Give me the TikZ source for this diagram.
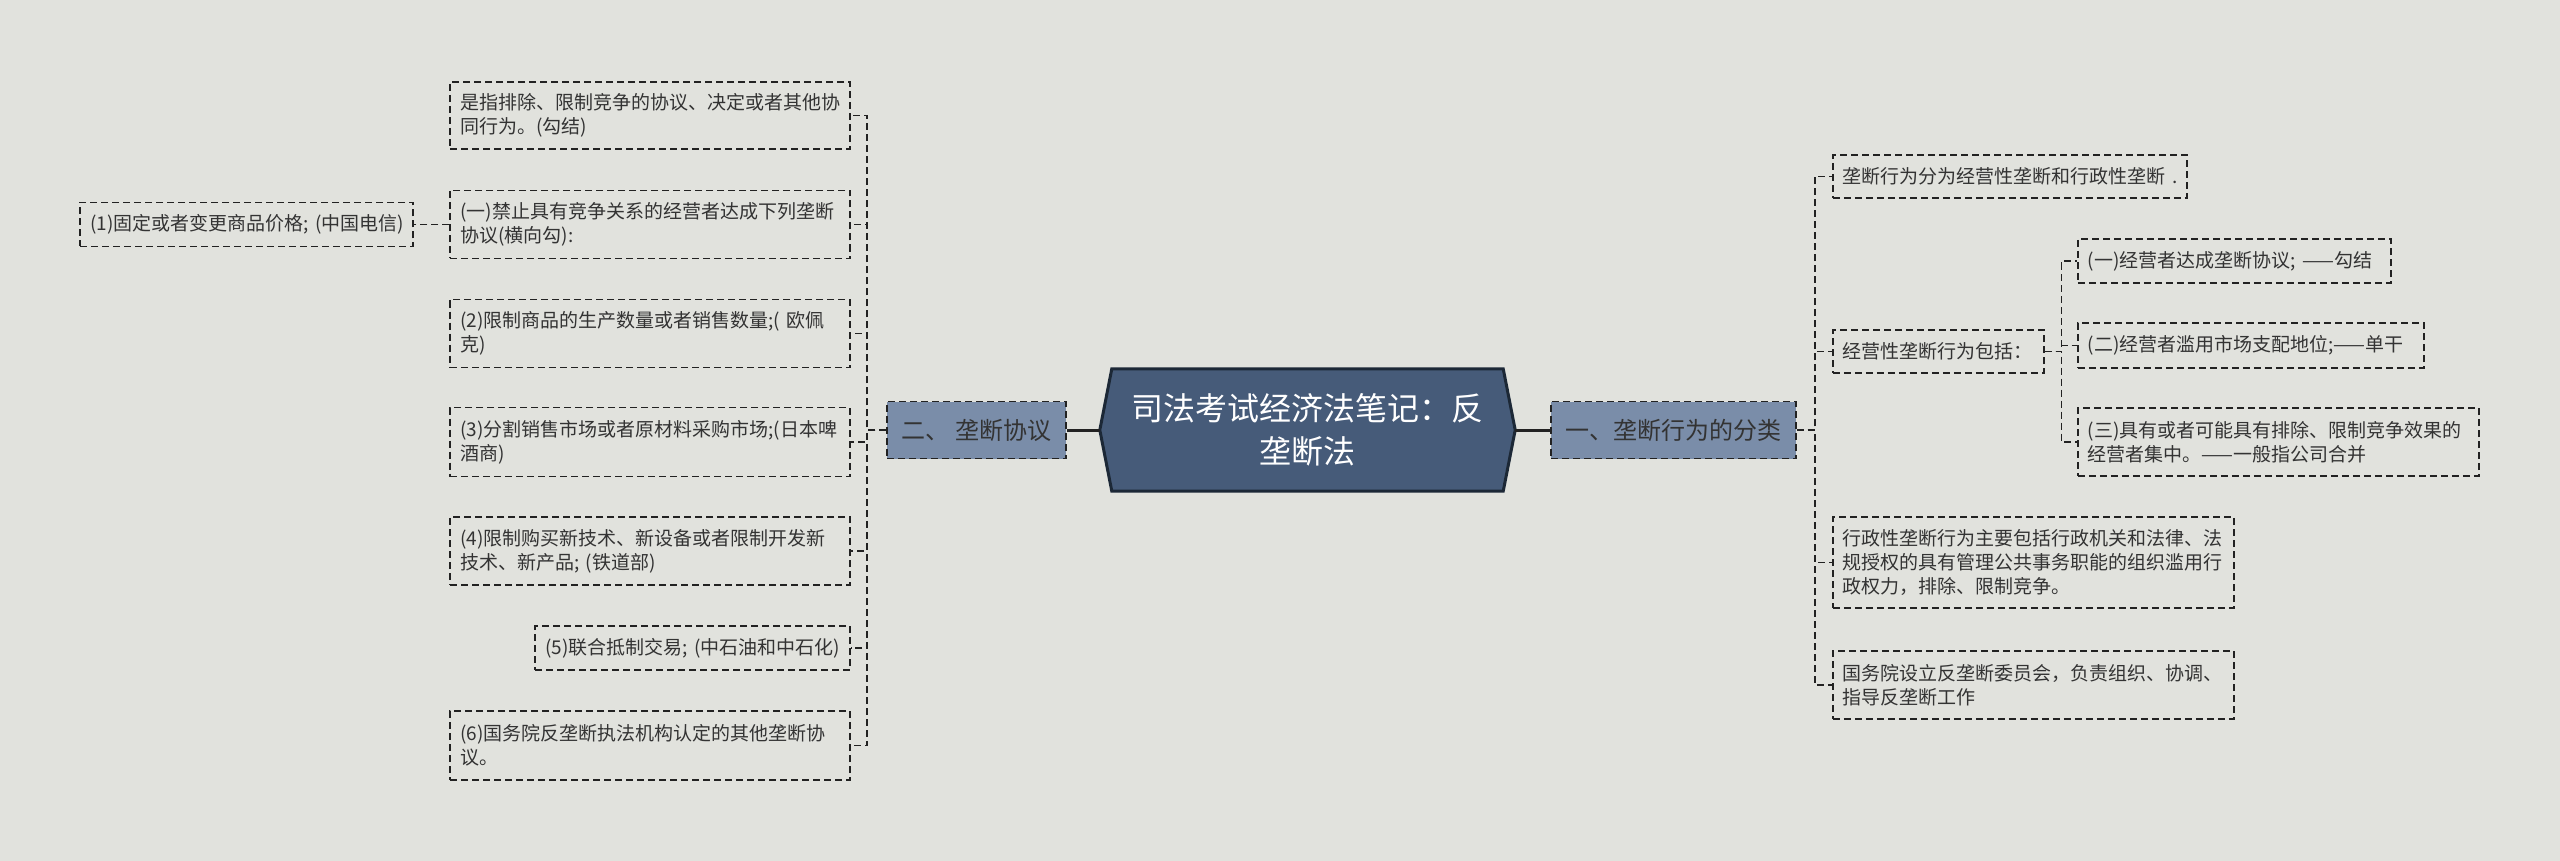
\documentclass[tikz,border=0pt]{standalone}
\usepackage{fontspec}
\setmainfont{Noto Sans CJK SC}
\usetikzlibrary{backgrounds}
\definecolor{bgc}{HTML}{E1E2DD}
\definecolor{linec}{HTML}{222222}
\definecolor{textc}{HTML}{333333}
\definecolor{hexfill}{HTML}{465B79}
\definecolor{hexline}{HTML}{1C2836}
\definecolor{brfill}{HTML}{7A8DA9}
\tikzset{
  dashline/.style={draw=linec, line width=1.6pt, dash pattern=on 7pt off 4pt},
  leaf/.style={dashline, text=textc, font=\fontsize{19}{24}\selectfont, align=left, inner xsep=10pt, inner ysep=3pt},
  branchbox/.style={dashline, fill=brfill, text=textc, font=\fontsize{24}{30}\selectfont, align=center, inner sep=0pt, minimum height=57pt},
  conn/.style={dashline},
  rootline/.style={draw=linec, line width=3pt},
  rootbox/.style={text=white, font=\fontsize{32}{43}\selectfont, align=center, inner sep=0pt, minimum width=415pt, minimum height=122pt}
}
\begin{document}
\begin{tikzpicture}[x=1pt, y=-1pt]
\useasboundingbox (0,0) rectangle (2560,861);
\begin{scope}[on background layer]
\fill[bgc] (0,0) rectangle (2560,861);
\end{scope}

% root
\node[rootbox] (root) at (1307.5,430) {司法考试经济法笔记：反\\垄断法};
\begin{scope}[on background layer]
\draw[fill=hexfill, draw=hexline, line width=3pt, line join=miter]
  (root.west) -- ([xshift=12pt]root.north west) -- ([xshift=-12pt]root.north east)
  -- (root.east) -- ([xshift=-12pt]root.south east) -- ([xshift=12pt]root.south west) -- cycle;
\end{scope}

% branches
\node[branchbox, minimum width=179pt] (B2) at (976.5,430) {二、 垄断协议};
\node[branchbox, minimum width=245pt] (B1) at (1673.5,430) {一、垄断行为的分类};

% left leaves
\node[leaf, anchor=east, text width=380pt, minimum height=67pt] (L1) at (851,115.5) {是指排除、限制竞争的协议、决定或者其他协\\同行为。(勾结)};
\node[leaf, anchor=east, text width=380pt, minimum height=68pt] (L2) at (851,224.5) {(一)禁止具有竞争关系的经营者达成下列垄断\\协议(横向勾):};
\node[leaf, anchor=east, text width=313pt, minimum height=44pt] (L2a) at (414,224.5) {\mbox{(1)固定或者变更商品价格; (中国电信)}};
\node[leaf, anchor=east, text width=380pt, minimum height=68pt] (L3) at (851,333.5) {(2)限制商品的生产数量或者销售数量;( 欧佩\\克)};
\node[leaf, anchor=east, text width=380pt, minimum height=69pt] (L4) at (851,442) {(3)分割销售市场或者原材料采购市场;(日本啤\\酒商)};
\node[leaf, anchor=east, text width=380pt, minimum height=68pt] (L5) at (851,551) {(4)限制购买新技术、新设备或者限制开发新\\技术、新产品; (铁道部)};
\node[leaf, anchor=east, text width=295pt, minimum height=44pt] (L6) at (851,648) {\mbox{(5)联合抵制交易; (中石油和中石化)}};
\node[leaf, anchor=east, text width=380pt, minimum height=69pt] (L7) at (851,745.5) {(6)国务院反垄断执法机构认定的其他垄断协\\议。};

% right leaves
\node[leaf, anchor=west, text width=334pt, minimum height=43pt] (Ra) at (1832,176.5) {\mbox{垄断行为分为经营性垄断和行政性垄断 .}};
\node[leaf, anchor=west, text width=191pt, minimum height=43pt] (Rb) at (1832,351.5) {\mbox{经营性垄断行为包括：}};
\node[leaf, anchor=west, text width=293pt, minimum height=44pt] (Rb1) at (2077,261) {\mbox{(一)经营者达成垄断协议; ——勾结}};
\node[leaf, anchor=west, text width=326pt, minimum height=45pt] (Rb2) at (2077,345.5) {\mbox{(二)经营者滥用市场支配地位;——单干}};
\node[leaf, anchor=west, text width=381pt, minimum height=68pt] (Rb3) at (2077,442) {(三)具有或者可能具有排除、限制竞争效果的\\经营者集中。——一般指公司合并};
\node[leaf, anchor=west, text width=381pt, minimum height=91pt] (Rc) at (1832,562.5) {行政性垄断行为主要包括行政机关和法律、法\\规授权的具有管理公共事务职能的组织滥用行\\政权力，排除、限制竞争。};
\node[leaf, anchor=west, text width=381pt, minimum height=68pt] (Rd) at (1832,685) {国务院设立反垄断委员会，负责组织、协调、\\指导反垄断工作};

% root connectors
\draw[rootline] (B2.east) -- (root.west);
\draw[rootline] (root.east) -- (B1.west);

% left connectors
\foreach \n in {L1,L2,L3,L4,L5,L6,L7}
  \draw[conn] (B2.west) -- ++(-19,0) |- (\n.east);
\draw[conn] (L2.west) -- (L2a.east);

% right connectors
\foreach \n in {Ra,Rb,Rc,Rd}
  \draw[conn] (B1.east) -- ++(18,0) |- (\n.west);
\foreach \n in {Rb1,Rb2,Rb3}
  \draw[conn] (Rb.east) -- ++(17,0) |- (\n.west);
\end{tikzpicture}
\end{document}
